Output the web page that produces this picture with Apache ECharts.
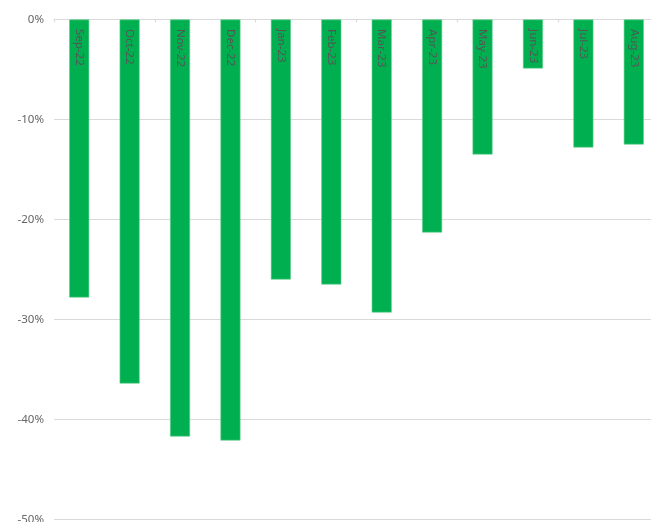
<!DOCTYPE html>
<html>
<head>
<meta charset="utf-8">
<script src="https://cdn.jsdelivr.net/npm/echarts@6/dist/echarts.min.js"></script>
<style>html,body{margin:0;padding:0;background:#fff}#c{width:651px;height:522px}</style>
</head>
<body>
<div id="c"></div>
<script>
const categories = ['Sep-22','Oct-22','Nov-22','Dec-22','Jan-23','Feb-23','Mar-23','Apr-23','May-23','Jun-23','Jul-23','Aug-23'];
const values = [-27.8, -36.4, -41.7, -42.1, -26.0, -26.5, -29.3, -21.3, -13.5, -4.9, -12.8, -12.5];
const yTicks = [0, -10, -20, -30, -40, -50];

const chart = echarts.init(document.getElementById('c'));
chart.setOption({
  animation: false,
  grid: {left: 54, top: 19.5, width: 605, height: 500, containLabel: false, outerBoundsMode: 'none'},
  xAxis: {
    type: 'category',
    data: categories,
    position: 'top',
    axisLine: {lineStyle: {color: '#d9d9d9', width: 1}},
    axisTick: {show: true, inside: true, length: 3, lineStyle: {color: '#d9d9d9'}},
    axisLabel: {show: false},
    splitLine: {show: false}
  },
  yAxis: {
    type: 'value',
    min: yTicks[yTicks.length - 1],
    max: yTicks[0],
    interval: 10,
    axisLine: {show: false},
    axisTick: {show: false},
    axisLabel: {
      color: '#666666',
      fontFamily: '"Noto Sans", sans-serif',
      fontSize: 11.5,
      margin: 10,
      formatter: v => v + '%'
    },
    splitLine: {lineStyle: {color: '#d9d9d9', width: 1}}
  },
  series: [{
    type: 'bar',
    data: values,
    barWidth: 20,
    itemStyle: {color: '#00B050', borderColor: '#5fd08c', borderWidth: 0.6},
    label: {
      show: true,
      position: 'insideTop',
      distance: 9.5,
      rotate: -90,
      align: 'left',
      verticalAlign: 'middle',
      color: '#555555',
      fontFamily: '"Noto Sans", sans-serif',
      fontSize: 11.5,
      formatter: '{b}'
    }
  }]
});
</script>
</body>
</html>
